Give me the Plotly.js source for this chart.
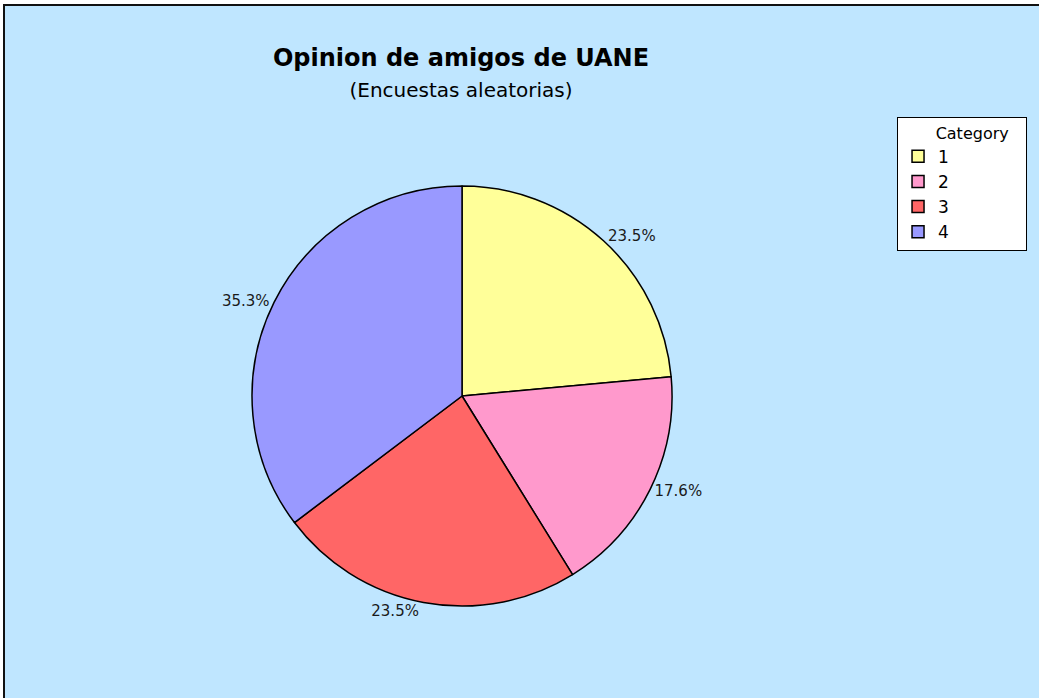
<!DOCTYPE html>
<html>
<head>
<meta charset="utf-8">
<script src="https://cdn.plot.ly/plotly-3.0.1.min.js"></script>
<style>
  html, body { margin:0; padding:0; background:#ffffff; }
  #frame { position:absolute; left:3px; top:4px; border-top:2px solid #111; border-left:2px solid #111; }
  #chart { width:1034px; height:692px; }
</style>
</head>
<body>
<div id="frame"><div id="chart"></div></div>
<script>
const categories = ["1", "2", "3", "4"];
const counts = [4, 3, 4, 6];
const sliceColors = ["#FFFF99", "#FF99CC", "#FF6666", "#9999FF"];
const titleText = "Opinion de amigos de UANE";
const subtitleText = "(Encuestas aleatorias)";
const legendTitle = "Category";

const font = "DejaVu Sans, Verdana, sans-serif";

const trace = {
  type: "pie",
  labels: categories,
  values: counts,
  sort: false,
  direction: "clockwise",
  rotation: 0,
  marker: { colors: sliceColors, line: { color: "#000000", width: 1.5 } },
  textposition: "outside",
  texttemplate: "%{percent:.1%}",
  textfont: { family: font, size: 15, color: "#1a1a1a" },
  hoverinfo: "label+value+percent",
  domain: { x: [0.2389, 0.6451], y: [0.1329, 0.7399] }
};

const nb = "\u00a0";
const layout = {
  width: 1034, height: 692,
  margin: { l: 0, r: 0, t: 0, b: 0 },
  paper_bgcolor: "#BFE6FF",
  plot_bgcolor: "#BFE6FF",
  font: { family: font, color: "#000000" },
  title: {
    text: "<b>" + titleText + "</b><br><span style='font-size:20px'>" + subtitleText + "</span>",
    font: { family: font, size: 24, color: "#000000" },
    x: 0.441, xanchor: "center", xref: "container",
    y: 0.913, yanchor: "top", yref: "container"
  },
  showlegend: true,
  legend: {
    x: 0.8627, xanchor: "left", y: 0.8396, yanchor: "top",
    bgcolor: "#ffffff", bordercolor: "#000000", borderwidth: 1,
    font: { family: font, size: 17, color: "#000000" },
    title: { text: nb.repeat(7) + legendTitle + nb.repeat(3), side: "top", font: { family: font, size: 16 } },
    traceorder: "normal"
  }
};

Plotly.newPlot("chart", [trace], layout, { displayModeBar: false });
</script>
</body>
</html>
